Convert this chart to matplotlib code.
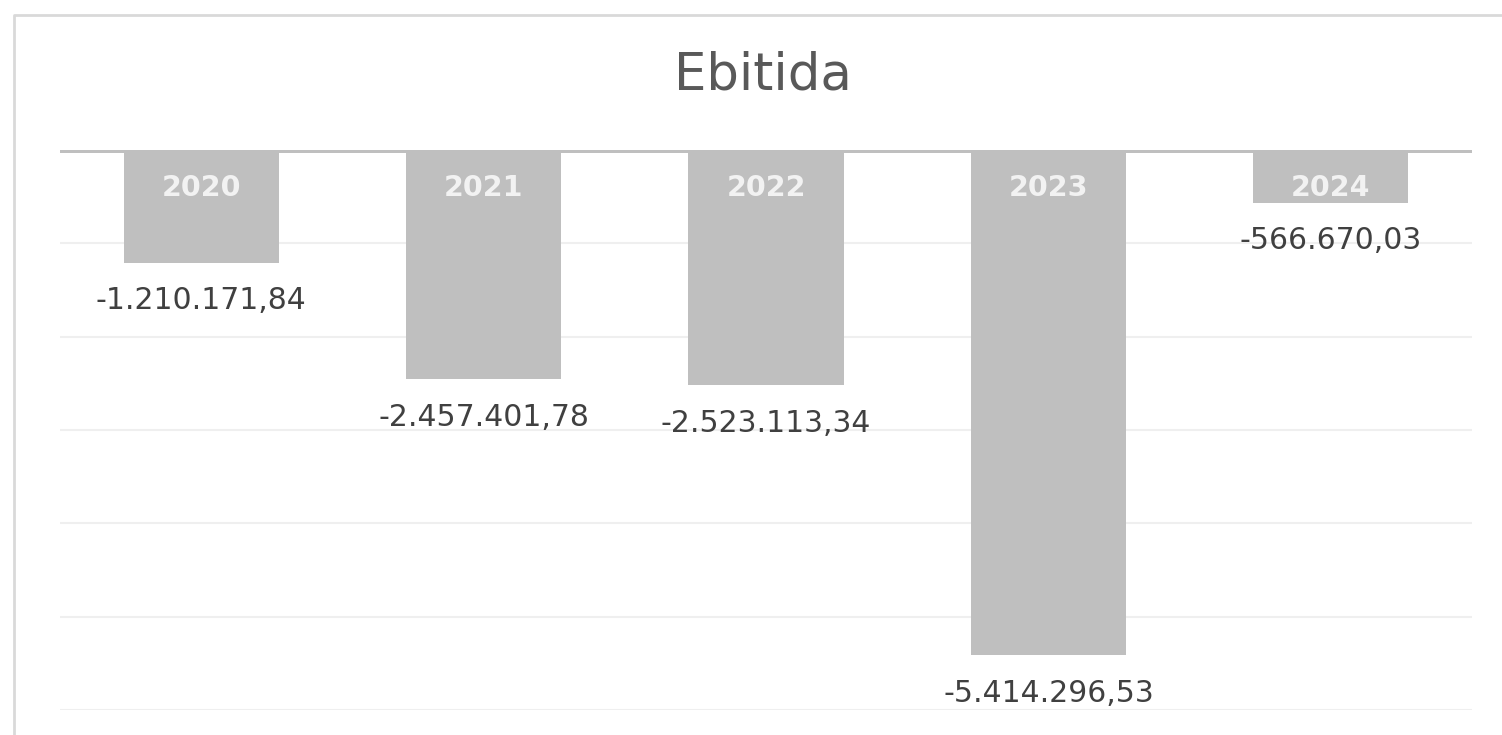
import matplotlib
matplotlib.use("Agg")
import matplotlib.pyplot as plt
from matplotlib.lines import Line2D
from matplotlib import transforms

# Data
years = ["2020", "2021", "2022", "2023", "2024"]
ebitida = [-1210171.84, -2457401.78, -2523113.34, -5414296.53, -566670.03]
value_labels = ["-1.210.171,84", "-2.457.401,78", "-2.523.113,34",
                "-5.414.296,53", "-566.670,03"]
grid_levels = [-1e6, -2e6, -3e6, -4e6, -5e6, -6e6]

W, H = 1502, 735
fig = plt.figure(figsize=(W / 100, H / 100), dpi=100)
fig.patch.set_facecolor("white")

# chart border (Excel style): only left and top edges visible in the crop
fig.lines.append(Line2D([14 / W, 14 / W, 1.0], [0, 1 - 15 / H, 1 - 15 / H],
                        transform=fig.transFigure, color="#d9d9d9", linewidth=2))

ax = fig.add_axes([60 / W, 1 - 710 / H, (1472 - 60) / W, (710 - 150) / H])
ax.set_xlim(-0.5, len(years) - 0.5)
ax.set_ylim(-6e6, 0)
for s in ax.spines.values():
    s.set_visible(False)
ax.set_xticks([])
ax.set_yticks([])

for g in grid_levels:
    ax.axhline(g, color="#efefef", linewidth=1.5, zorder=0)

x = list(range(len(years)))
ax.bar(x, ebitida, width=0.55, color="#bfbfbf", zorder=2)
ax.axhline(0, color="#bfbfbf", linewidth=3.6, zorder=3)

# year labels inside bars, near the zero line
for xi, yr in zip(x, years):
    off = transforms.offset_copy(ax.transData, fig=fig, x=0, y=-38, units="dots")
    ax.text(xi, 0, yr, transform=off, ha="center", va="center",
            fontsize=20.5, fontweight="bold", color="#f2f2f2", zorder=4)

# value labels below bar ends
for xi, v, lab in zip(x, ebitida, value_labels):
    off = transforms.offset_copy(ax.transData, fig=fig, x=0, y=-38, units="dots")
    ax.text(xi, v, lab, transform=off, ha="center", va="center",
            fontsize=21.5, color="#404040", zorder=4)

fig.text(763 / W, 1 - 75 / H, "Ebitida", ha="center", va="center",
         fontsize=37, color="#595959")

fig.savefig("out.png", dpi=100)
